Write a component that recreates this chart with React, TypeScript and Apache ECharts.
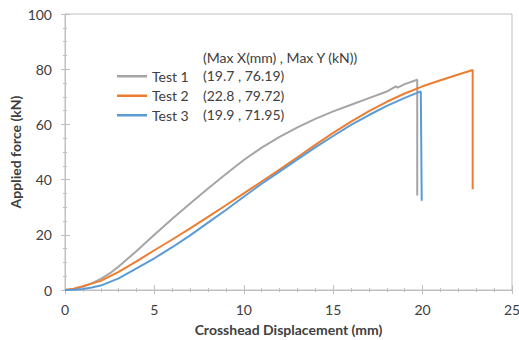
import React, { useEffect, useRef } from "react";
import * as echarts from "echarts";

const test1X = [0, 0.5, 1, 1.5, 2, 2.5, 3, 4, 5, 6, 7, 8, 9, 10, 11, 12, 13, 14, 15, 16, 17, 18, 18.5, 18.6, 19, 19.7, 19.7];
const test1Y = [0, 0.4, 1.2, 2.4, 4.0, 6.0, 8.5, 14.1, 20.0, 25.8, 31.3, 36.8, 42.0, 47.1, 51.6, 55.5, 58.9, 62.0, 64.7, 67.1, 69.5, 71.9, 73.8, 73.3, 74.6, 76.19, 34.2];

const test2X = [0, 0.5, 1, 2, 3, 4, 5, 6, 7, 8, 9, 10, 11, 12, 13, 14, 15, 16, 17, 18, 19, 20, 21, 22, 22.8, 22.8];
const test2Y = [0, 0.5, 1.4, 3.3, 6.6, 10.4, 14.4, 18.3, 22.3, 26.5, 30.7, 35.0, 39.3, 43.6, 48.1, 52.6, 56.9, 61.0, 64.8, 68.2, 71.2, 73.8, 76.0, 78.1, 79.72, 36.5];

const test3X = [0, 0.5, 1, 1.5, 2, 3, 4, 5, 6, 7, 8, 9, 10, 11, 12, 13, 14, 15, 16, 17, 18, 19, 19.9, 19.95];
const test3Y = [0, 0.1, 0.4, 0.9, 1.6, 4.2, 7.8, 11.5, 15.5, 19.8, 24.4, 29.0, 33.8, 38.5, 42.9, 47.3, 51.7, 55.8, 59.8, 63.4, 66.7, 69.6, 71.95, 32.3];

const seriesNames = ["Test 1", "Test 2", "Test 3"];
const seriesColors = ["#a5a5a5", "#ed7d31", "#5b9bd5"];
const annotationHeader = "(Max X(mm) , Max Y (kN))";
const annotationLines = ["(19.7 , 76.19)", "(22.8 , 79.72)", "(19.9 , 71.95)"];

const xTitle = "Crosshead Displacement (mm)";
const yTitle = "Applied force (kN)";

const FONT = "Lato";
const TXT = "#404040";
const AXIS = "#bfbfbf";

function zip(xs: number[], ys: number[]) {
  return xs.map((x, i) => [x, ys[i]]);
}

export default function App() {
  const ref = useRef<HTMLDivElement>(null);
  useEffect(() => {
    if (!ref.current) return;
    const chart = echarts.init(ref.current, undefined, { renderer: "svg" });
    const data = [zip(test1X, test1Y), zip(test2X, test2Y), zip(test3X, test3Y)];
    const baseX = {
      type: "value",
      min: 0,
      max: 25,
      interval: 5,
      position: "bottom",
      axisLine: { show: true, lineStyle: { color: AXIS, width: 1 } },
      splitLine: { show: false },
    };
    const baseY = {
      type: "value",
      min: 0,
      max: 100,
      interval: 20,
      position: "left",
      axisLine: { show: true, lineStyle: { color: AXIS, width: 1 } },
      splitLine: { show: false },
    };
    chart.setOption({
      animation: false,
      backgroundColor: "#ffffff",
      grid: {
        left: 65,
        top: 14,
        right: 7,
        bottom: 50,
        show: true,
        borderColor: AXIS,
        borderWidth: 1,
        containLabel: false,
        outerBoundsMode: "none",
      },
      xAxis: [
        {
          ...baseX,
          name: xTitle,
          nameLocation: "middle",
          nameGap: 32,
          nameMoveOverlap: false,
          nameTextStyle: { fontFamily: FONT, fontSize: 14, fontWeight: "bold", color: TXT },
          axisTick: { show: true, length: 4, inside: false, lineStyle: { color: AXIS } },
          minorTick: { show: true, splitNumber: 5, length: 2, lineStyle: { color: AXIS } },
          axisLabel: { fontFamily: FONT, fontSize: 14, color: TXT, margin: 12 },
        },
        {
          ...baseX,
          axisTick: { show: true, length: 5, inside: true, lineStyle: { color: AXIS } },
          minorTick: { show: true, splitNumber: 5, length: 2, lineStyle: { color: AXIS } },
          axisLabel: { show: false },
        },
      ],
      yAxis: [
        {
          ...baseY,
          name: yTitle,
          nameLocation: "middle",
          nameGap: 43,
          nameMoveOverlap: false,
          nameRotate: 90,
          nameTextStyle: { fontFamily: FONT, fontSize: 14, fontWeight: "bold", color: TXT },
          axisTick: { show: true, length: 4, inside: false, lineStyle: { color: AXIS } },
          minorTick: { show: true, splitNumber: 4, length: 2, lineStyle: { color: AXIS } },
          axisLabel: { fontFamily: FONT, fontSize: 14, color: TXT, margin: 13 },
        },
        {
          ...baseY,
          axisTick: { show: true, length: 5, inside: true, lineStyle: { color: AXIS } },
          minorTick: { show: true, splitNumber: 4, length: 2, lineStyle: { color: AXIS } },
          axisLabel: { show: false },
        },
      ],
      legend: {
        orient: "vertical",
        left: 117,
        top: 68,
        padding: 0,
        icon: "rect",
        itemWidth: 30,
        itemHeight: 2.5,
        itemGap: 3,
        textStyle: { fontFamily: FONT, fontSize: 14, color: TXT, lineHeight: 16.5 },
        data: seriesNames,
      },
      graphic: [
        {
          type: "text",
          left: 203,
          top: 50,
          style: { text: annotationHeader, fontFamily: FONT, fontSize: 14, fill: TXT },
        },
        ...annotationLines.map((t, i) => ({
          type: "text",
          left: 203,
          top: 68.5 + i * 19.5,
          style: { text: t, fontFamily: FONT, fontSize: 14, fill: TXT },
        })),
      ],
      series: data.map((d, i) => ({
        name: seriesNames[i],
        type: "line",
        data: d,
        xAxisIndex: 0,
        yAxisIndex: 0,
        symbol: "none",
        showSymbol: false,
        smooth: false,
        lineStyle: { color: seriesColors[i], width: 2 },
        itemStyle: { color: seriesColors[i] },
      })),
    });
    return () => chart.dispose();
  }, []);
  return <div ref={ref} style={{ width: 519, height: 340, position: "absolute", left: 0, top: 0 }} />;
}
